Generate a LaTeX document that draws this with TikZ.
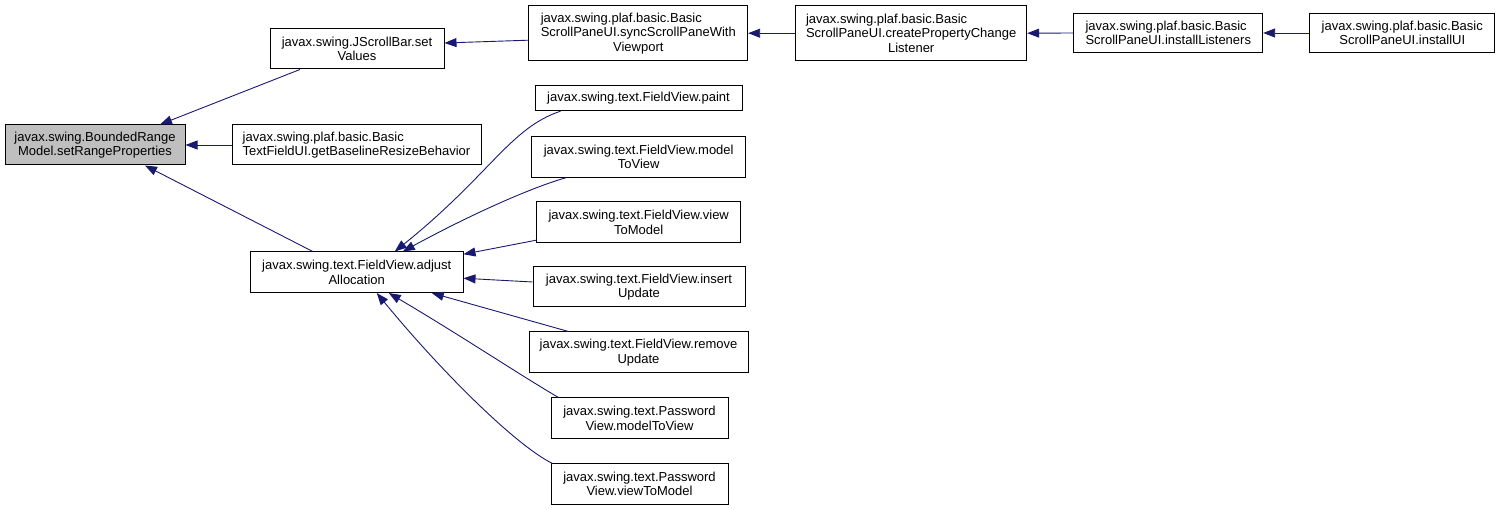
\documentclass[tikz,border=0pt]{standalone}
\usepackage{fontspec}
\setmainfont{Liberation Sans}
\usetikzlibrary{arrows.meta}
\definecolor{edgeblue}{HTML}{191970}
\definecolor{hilite}{HTML}{BFBFBF}
% first line set flush left against the width of the second one
\newcommand{\leftln}[2]{\setbox0\hbox{#2}\hbox to \wd0{#1\hfil}}
\tikzset{
  fn/.style={draw=black, line width=1pt, inner sep=0pt, align=center,
    font=\fontsize{13}{14.5}\selectfont},
  call/.style={draw=edgeblue, line width=0.9pt, -{Triangle[length=12pt,width=9pt]}},
}
\begin{document}
\begin{tikzpicture}[x=1pt,y=-1pt]
  \useasboundingbox (0,0) rectangle (1500,510);
  \node[fn, fill=hilite, minimum width=180, minimum height=40] (bounded) at (95,145)
    {javax.swing.BoundedRange\\Model.setRangeProperties};
  \node[fn, minimum width=174, minimum height=40] (scrollbar) at (357,49)
    {javax.swing.JScrollBar.set\\Values};
  \node[fn, minimum width=249, minimum height=40] (textfield) at (356.5,145)
    {\leftln{javax.swing.plaf.basic.Basic}{TextFieldUI.getBaselineResizeBehavior}\\TextFieldUI.getBaselineResizeBehavior};
  \node[fn, minimum width=212.5, minimum height=40.5] (adjust) at (356.75,272.25)
    {javax.swing.text.FieldView.adjust\\Allocation};
  \node[fn, minimum width=218.7, minimum height=55] (sync) at (638.3,33.2)
    {\leftln{javax.swing.plaf.basic.Basic}{ScrollPaneUI.syncScrollPaneWith}\\ScrollPaneUI.syncScrollPaneWith\\Viewport};
  \node[fn, minimum width=231, minimum height=55] (createpcl) at (911.2,33.2)
    {\leftln{javax.swing.plaf.basic.Basic}{ScrollPaneUI.createPropertyChange}\\ScrollPaneUI.createPropertyChange\\Listener};
  \node[fn, minimum width=188.7, minimum height=39.4] (listeners) at (1168.3,33)
    {\leftln{javax.swing.plaf.basic.Basic}{ScrollPaneUI.installListeners}\\ScrollPaneUI.installListeners};
  \node[fn, minimum width=184.7, minimum height=39.4] (installui) at (1402.3,33)
    {javax.swing.plaf.basic.Basic\\ScrollPaneUI.installUI};
  \node[fn, minimum width=207, minimum height=25] (paint) at (638.5,98.2)
    {javax.swing.text.FieldView.paint};
  \node[fn, minimum width=214, minimum height=40.6] (mtv) at (638.7,157)
    {javax.swing.text.FieldView.model\\ToView};
  \node[fn, minimum width=204, minimum height=41] (vtm) at (638.7,222.2)
    {javax.swing.text.FieldView.view\\ToModel};
  \node[fn, minimum width=212, minimum height=40] (insert) at (639,287)
    {javax.swing.text.FieldView.insert\\Update};
  \node[fn, minimum width=219, minimum height=41] (remove) at (638.5,352.5)
    {javax.swing.text.FieldView.remove\\Update};
  \node[fn, minimum width=177, minimum height=41] (pmtv) at (639.5,418.5)
    {javax.swing.text.Password\\View.modelToView};
  \node[fn, minimum width=177, minimum height=40] (pvtm) at (639.5,484)
    {javax.swing.text.Password\\View.viewToModel};

  \draw[call] ([xshift=-57]scrollbar.south) -- ([xshift=65]bounded.north);
  \draw[call] (textfield.west) -- (bounded.east);
  \draw[call] ([xshift=-44]adjust.north) -- ([xshift=50]bounded.south);
  \draw[call] ([yshift=-7]sync.west) -- ([yshift=6]scrollbar.east);
  \draw[call] (createpcl.west) -- (sync.east);
  \draw[call] (listeners.west) -- (createpcl.east);
  \draw[call] (installui.west) -- (listeners.east);
  \draw[call] ([xshift=-78]paint.south) .. controls (510,128) and (490,175) .. ([xshift=38]adjust.north);
  \draw[call] ([xshift=-73]mtv.south) .. controls (530,188) and (470,215) .. ([xshift=46]adjust.north);
  \draw[call] ([yshift=-18]vtm.west) -- ([yshift=18]adjust.east);
  \draw[call] ([yshift=5]insert.west) -- ([yshift=-6]adjust.east);
  \draw[call] ([xshift=-70]remove.north) -- ([xshift=75]adjust.south);
  \draw[call] ([xshift=-81]pmtv.north) .. controls (520,375) and (460,335) .. ([xshift=32]adjust.south);
  \draw[call] ([xshift=-87]pvtm.north) .. controls (515,445) and (440,370) .. ([xshift=20]adjust.south);
\end{tikzpicture}
\end{document}
